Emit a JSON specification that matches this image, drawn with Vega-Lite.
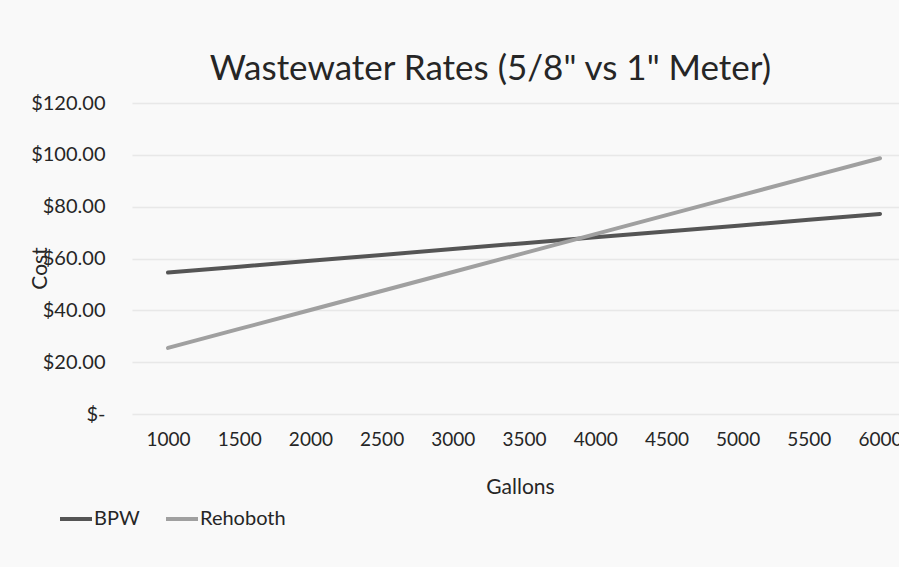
{
  "$schema": "https://vega.github.io/schema/vega-lite/v6.json",
  "width": 767,
  "height": 311,
  "autosize": {"type": "none"},
  "padding": {"left": 132, "top": 103, "right": 0, "bottom": 153},
  "background": "#f9f9f9",
  "title": {
    "text": "Wastewater Rates (5/8\" vs 1\" Meter)",
    "font": "Lato",
    "fontSize": 35,
    "fontWeight": "normal",
    "color": "#262626",
    "anchor": "middle",
    "dx": -25,
    "offset": 6
  },
  "config": {
    "view": {"stroke": null},
    "font": "Lato"
  },
  "data": {
    "values": [
      {"gallons": 1000, "series": "BPW", "cost": 54.6},
      {"gallons": 1500, "series": "BPW", "cost": 56.86},
      {"gallons": 2000, "series": "BPW", "cost": 59.12},
      {"gallons": 2500, "series": "BPW", "cost": 61.38},
      {"gallons": 3000, "series": "BPW", "cost": 63.64},
      {"gallons": 3500, "series": "BPW", "cost": 65.9},
      {"gallons": 4000, "series": "BPW", "cost": 68.16},
      {"gallons": 4500, "series": "BPW", "cost": 70.42},
      {"gallons": 5000, "series": "BPW", "cost": 72.68},
      {"gallons": 5500, "series": "BPW", "cost": 74.94},
      {"gallons": 6000, "series": "BPW", "cost": 77.2},
      {"gallons": 1000, "series": "Rehoboth", "cost": 25.5},
      {"gallons": 1500, "series": "Rehoboth", "cost": 32.82},
      {"gallons": 2000, "series": "Rehoboth", "cost": 40.14},
      {"gallons": 2500, "series": "Rehoboth", "cost": 47.46},
      {"gallons": 3000, "series": "Rehoboth", "cost": 54.78},
      {"gallons": 3500, "series": "Rehoboth", "cost": 62.1},
      {"gallons": 4000, "series": "Rehoboth", "cost": 69.42},
      {"gallons": 4500, "series": "Rehoboth", "cost": 76.74},
      {"gallons": 5000, "series": "Rehoboth", "cost": 84.06},
      {"gallons": 5500, "series": "Rehoboth", "cost": 91.38},
      {"gallons": 6000, "series": "Rehoboth", "cost": 98.7}
    ]
  },
  "mark": {"type": "line", "strokeWidth": 4, "strokeCap": "round"},
  "encoding": {
    "x": {
      "field": "gallons",
      "type": "ordinal",
      "scale": {"type": "point", "padding": 0.386, "align": 0.655},
      "axis": {
        "title": "Gallons",
        "titleFontSize": 21,
        "titleFontWeight": "normal",
        "titleColor": "#262626",
        "titlePadding": 27,
        "titleX": 388,
        "labelAngle": 0,
        "labelFontSize": 19,
        "labelColor": "#262626",
        "labelPadding": 16,
        "ticks": false,
        "domain": false,
        "grid": false
      }
    },
    "y": {
      "field": "cost",
      "type": "quantitative",
      "scale": {"domain": [0, 120], "nice": false},
      "axis": {
        "title": "Cost",
        "titleFontSize": 21,
        "titleFontWeight": "normal",
        "titleColor": "#262626",
        "titleX": -82,
        "titleY": 165,
        "titleAlign": "center",
        "titleBaseline": "bottom",
        "values": [0, 20, 40, 60, 80, 100, 120],
        "labelExpr": "datum.value == 0 ? '$-\u2007' : '$' + format(datum.value, '.2f')",
        "labelFontSize": 20,
        "labelColor": "#262626",
        "labelPadding": 27,
        "ticks": false,
        "domain": false,
        "grid": true,
        "gridColor": "#e8e8e8",
        "gridWidth": 1.5
      }
    },
    "color": {
      "field": "series",
      "type": "nominal",
      "scale": {"domain": ["BPW", "Rehoboth"], "range": ["#555555", "#a0a0a0"]},
      "legend": {
        "title": null,
        "orient": "none",
        "direction": "horizontal",
        "legendX": -74,
        "legendY": 398,
        "symbolType": "stroke",
        "symbolStrokeWidth": 4,
        "symbolSize": 1024,
        "labelFontSize": 20,
        "labelColor": "#262626",
        "labelOffset": 0,
        "columnPadding": 18
      }
    }
  }
}
